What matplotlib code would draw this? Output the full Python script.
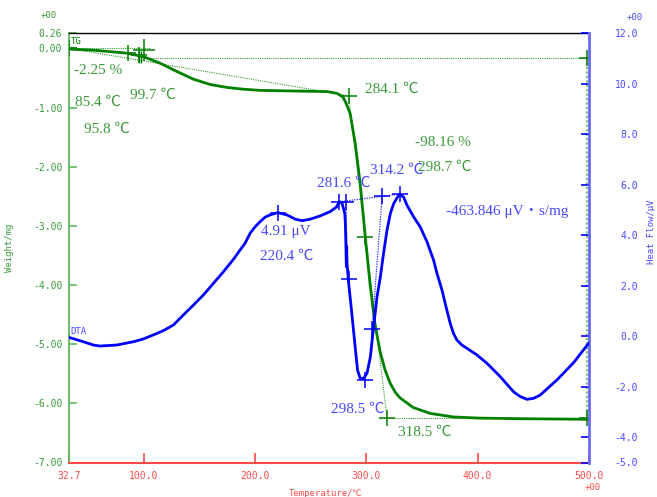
import matplotlib
matplotlib.use("Agg")
import matplotlib.pyplot as plt

# ---- TG curve: weight change (mg) vs temperature (deg C) ----
tg_temp = [32.7, 34.9, 54.4, 72.4, 84.5, 99.4, 114.4, 129.5, 144.4, 159.4, 174.5,
           189.4, 204.4, 234.4, 264.5, 273.5, 278.9, 281.8, 285.4, 289.9, 294.4,
           298.9, 303.4, 307.9, 312.4, 316.9, 321.4, 325.9, 330.4, 342.1, 357.4,
           378.1, 402.4, 440.0, 500.0]
tg_weight = [0.00, -0.015, -0.03, -0.06, -0.08, -0.14, -0.25, -0.39, -0.52, -0.61, -0.66,
             -0.69, -0.71, -0.72, -0.73, -0.76, -0.82, -0.93, -1.10, -1.60, -2.28,
             -3.16, -4.00, -4.68, -5.13, -5.44, -5.66, -5.81, -5.91, -6.07, -6.17,
             -6.23, -6.25, -6.26, -6.27]

# ---- DTA curve: heat flow (uV) vs temperature (deg C) ----
dta_temp = [32.7, 34.9, 45.4, 54.4, 60.4, 75.5, 90.4, 99.4, 108.4, 117.4, 126.4,
            135.4, 144.4, 153.4, 162.4, 171.4, 180.4, 186.4, 190.9, 195.4, 199.9,
            204.4, 208.9, 213.4, 220.4, 228.5, 236.2, 242.2, 249.4, 258.4, 267.4,
            273.4, 275.5, 278.1, 280.6, 281.1, 281.6, 282.0, 282.3, 282.6,
            283.8, 286.9, 289.9, 292.1, 294.4, 297.5, 300.6, 303.6, 306.5, 309.6,
            312.6, 315.5, 318.6, 321.6, 324.6, 328.2, 330.4, 333.6, 336.5, 342.4,
            348.4, 354.5, 360.4, 363.5, 368.0, 370.9, 375.4, 378.4, 381.4, 385.9,
            390.5, 399.4, 408.4, 420.4, 432.4, 438.4, 444.5, 450.4, 456.4, 471.5,
            486.4, 500.0]
dta_heat = [-0.05, -0.08, -0.22, -0.35, -0.39, -0.35, -0.22, -0.11, 0.05, 0.22, 0.44,
            0.84, 1.23, 1.63, 2.09, 2.55, 3.04, 3.41, 3.68, 4.07, 4.33,
            4.53, 4.71, 4.80, 4.89, 4.80, 4.63, 4.57, 4.63, 4.76, 4.93,
            5.12, 5.33, 5.27, 4.85, 4.48, 3.60, 2.75, 3.55, 2.90,
            2.22, 0.91, -0.42, -1.35, -1.66, -1.68, -1.46, -0.82, 0.37, 1.56,
            2.35, 3.29, 4.20, 4.86, 5.25, 5.52, 5.60, 5.50, 5.19, 4.73,
            4.33, 3.74, 3.02, 2.49, 1.83, 1.30, 0.51, 0.11, -0.15, -0.35,
            -0.48, -0.74, -1.07, -1.60, -2.20, -2.39, -2.50, -2.46, -2.33, -1.73,
            -1.05, -0.28]

# ---- analysis points ----
tg_mark_temp = [32.7, 85.4, 95.8, 284.1, 298.7, 318.5, 498.5, 498.5]
tg_mark_weight = [0.00, -0.07, -0.11, -0.80, -3.18, -6.24, -0.17, -6.24]
tg_big_temp, tg_big_weight = 99.7, -0.02
tg_base_weight = -0.17
tg_final_weight = -6.24

dta_mark_temp = [220.4, 275.7, 281.6, 284.8, 298.5, 305.1, 314.2, 330.0]
dta_mark_heat = [4.89, 5.32, 5.31, 2.28, -1.75, 0.30, 5.54, 5.62]

# ---- axis scales ----
temp_ticks = [32.7, 100.0, 200.0, 300.0, 400.0, 500.0]
weight_ticks = [0.26, 0.00, -1.00, -2.00, -3.00, -4.00, -5.00, -6.00, -7.00]
heat_ticks = [12.0, 10.0, 8.0, 6.0, 4.0, 2.0, 0.0, -2.0, -4.0, -5.0]

GREEN_LINE = "#008000"
GREEN_TXT = "#3a9a3a"
GREEN_AX = "#5cb85c"
BLUE_LINE = "#0000ff"
BLUE_TXT = "#4848ff"
BLUE_AX = "#6a6aff"
RED = "#ff4a4a"

MONO = ["DejaVu Sans Mono", "Noto Sans CJK JP"]
SERIF = ["Liberation Serif", "Noto Sans CJK JP"]

W, H = 657, 497
fig = plt.figure(figsize=(W / 100, H / 100), dpi=100)
L, R, T, B = 69.2, 588.7, 33.0, 462.5
ax = fig.add_axes([L / W, 1 - B / H, (R - L) / W, (B - T) / H])
ax2 = ax.twinx()


def px(x, y):
    return x / W, 1 - y / H


# TG axis
ax.set_xlim(32.7, 500.0)
ax.set_ylim(-7.0, 0.26)
ax.set_xticks(temp_ticks)
ax.set_xticklabels([f"{t:.1f}" for t in temp_ticks], family=MONO, fontsize=7)
ax.set_yticks(weight_ticks)
ax.set_yticklabels([f"{w:.2f}" for w in weight_ticks], family=MONO, fontsize=7)
ax.tick_params(axis="x", direction="in", length=7, width=1.2, color=RED,
               labelcolor=RED, pad=6)
ax.tick_params(axis="y", direction="in", length=6, width=1.2, color=GREEN_AX,
               labelcolor=GREEN_TXT, pad=5)
ax.spines["left"].set_color(GREEN_AX)
ax.spines["left"].set_linewidth(1.3)
ax.spines["bottom"].set_color(RED)
ax.spines["bottom"].set_linewidth(1.5)
ax.spines["top"].set_color("black")
ax.spines["top"].set_linewidth(1.0)
ax.spines["right"].set_visible(False)

# DTA axis
ax2.set_ylim(-5.0, 12.0)
ax2.set_yticks(heat_ticks)
ax2.set_yticklabels([f"{h:.1f}" for h in heat_ticks], family=MONO, fontsize=7,
                    ha="right")
ax2.tick_params(axis="y", direction="in", length=6, width=1.2, color=BLUE_LINE,
                labelcolor=BLUE_TXT, pad=35.5)
for s in ("left", "top", "bottom"):
    ax2.spines[s].set_visible(False)
ax2.spines["right"].set_color(BLUE_AX)
ax2.spines["right"].set_linewidth(2.0)

# TG construction lines
dot = dict(color=GREEN_LINE, lw=0.8, ls=(0, (1, 1)), alpha=0.8)
ax.plot([32.7, 106.0], [0.0, 0.0], **dot)
ax.plot([32.7, 284.1], [0.0, tg_mark_weight[3]], **dot)
ax.plot([tg_big_temp, tg_mark_temp[6]], [tg_base_weight, tg_base_weight], **dot)
ax.plot([284.1, 318.5], [tg_mark_weight[3], tg_final_weight], **dot)
ax.plot([311.0, tg_mark_temp[7]], [tg_final_weight, tg_final_weight], **dot)
ax.plot([tg_mark_temp[6], tg_mark_temp[6]], [tg_base_weight, tg_final_weight],
        color="#7cc47c", lw=1.6, ls=(0, (1, 1)))

# TG curve and markers
ax.plot(tg_temp, tg_weight, color=GREEN_LINE, lw=2.0, zorder=3)
ax.plot(tg_mark_temp, tg_mark_weight, ls="none", marker="+", ms=11, mew=1.1,
        color=GREEN_LINE, zorder=4)
ax.plot([tg_big_temp], [tg_big_weight], ls="none", marker="+", ms=16, mew=1.1,
        color=GREEN_LINE, zorder=4)
ax.vlines([95.8, 97.3], -0.25, -0.05, color=GREEN_LINE, lw=1.0, zorder=4)

# DTA construction lines
bdot = dict(color=BLUE_LINE, lw=0.9, ls=(0, (1, 1)), alpha=0.85)
ax2.plot([dta_mark_temp[1], dta_mark_temp[7]], [dta_mark_heat[1], dta_mark_heat[7]], **bdot)
ax2.plot([281.6, 283.0], [dta_mark_heat[2], 2.6], **bdot)
ax2.plot([dta_mark_temp[6], dta_mark_temp[5]], [dta_mark_heat[6], dta_mark_heat[5]], **bdot)

# DTA curve and markers
ax2.plot(dta_temp, dta_heat, color=BLUE_LINE, lw=2.0, zorder=3)
ax2.plot(dta_mark_temp, dta_mark_heat, ls="none", marker="+", ms=11, mew=1.1,
         color=BLUE_LINE, zorder=4)

# curve names
fig.text(*px(70.5, 42), "TG", color=GREEN_LINE, family=MONO, fontsize=6.5,
         va="center", ha="left")
fig.text(*px(70.5, 332), "DTA", color=BLUE_TXT, family=MONO, fontsize=6.5,
         va="center", ha="left")

# exponent markers and axis titles
fig.text(*px(49, 16), "+00", color=GREEN_TXT, family=MONO, fontsize=6.5,
         va="center", ha="center")
fig.text(*px(635, 17), "+00", color=BLUE_TXT, family=MONO, fontsize=6.5,
         va="center", ha="center")
fig.text(*px(593, 487), "+00", color=RED, family=MONO, fontsize=6.5,
         va="center", ha="center")
fig.text(*px(10, 248), "Weight/mg", color=GREEN_TXT, family=MONO, fontsize=6.5,
         rotation=90, va="center", ha="center")
fig.text(*px(651, 232), "Heat Flow/μV", color=BLUE_TXT, family=MONO, fontsize=6.5,
         rotation=90, va="center", ha="center")
fig.text(*px(326, 494), "Temperature/℃", color=RED, family=MONO, fontsize=6.5,
         va="center", ha="center")

# TG annotations
green_notes = [
    (74, 70, "-2.25 %"),
    (75, 102, "85.4 ℃"),
    (130, 95, "99.7 ℃"),
    (84, 129, "95.8 ℃"),
    (365, 89, "284.1 ℃"),
    (415, 143, "-98.16 %"),
    (418, 167, "298.7 ℃"),
    (398, 432, "318.5 ℃"),
]
for x, y, s in green_notes:
    fig.text(*px(x, y), s, color=GREEN_TXT, family=SERIF, fontsize=11,
             va="center", ha="left")

# DTA annotations
blue_notes = [
    (261, 231, "4.91 μV"),
    (260, 256, "220.4 ℃"),
    (317, 183, "281.6 ℃"),
    (370, 170, "314.2 ℃"),
    (446, 211, "-463.846 μV・s/mg"),
    (331, 409, "298.5 ℃"),
]
for x, y, s in blue_notes:
    fig.text(*px(x, y), s, color=BLUE_TXT, family=SERIF, fontsize=11,
             va="center", ha="left")

fig.savefig("out.png", dpi=100)
